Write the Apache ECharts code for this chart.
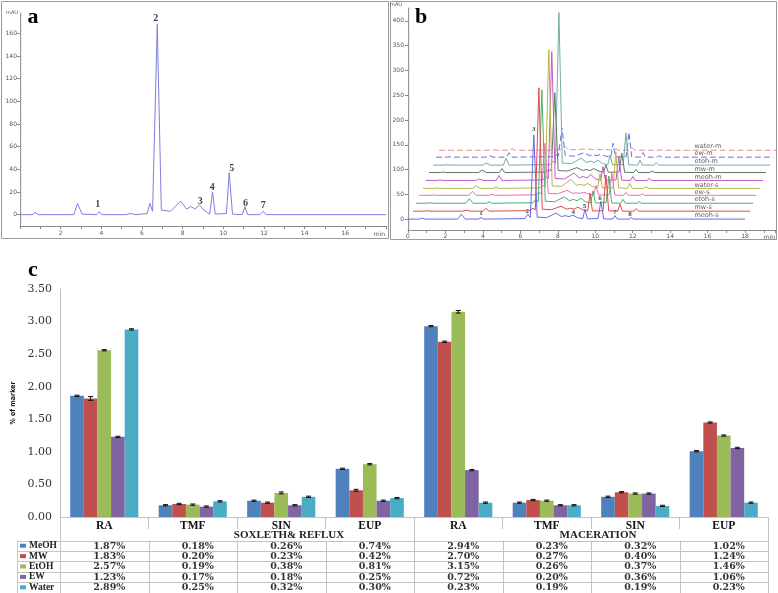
<!DOCTYPE html>
<html><head><meta charset="utf-8">
<script src="https://cdn.jsdelivr.net/npm/echarts@6/dist/echarts.min.js"></script>
<style>html,body{margin:0;padding:0;background:#fff}#c{width:778px;height:593px}</style>
</head><body><div id="c"></div>
<script>
// ---------- Panel a: chromatogram (time in min, signal in mAU) ----------
const aTime   = [0,0.6,0.74,0.9, 2.65,2.83,3.05, 3.78,3.9,4.02, 5.2,5.45,5.7, 6.25,6.39,6.52, 6.75,6.95,7.4, 7.9,8.2,8.4, 8.6,8.83,9.05, 9.33,9.47,9.6, 10.15,10.29,10.45, 10.93,11.06,11.2, 11.8,11.96,12.1, 18];
const aSignal = [0,0,2,0, 0,10,0.5, 0,2.6,0, 0,1,0, 1,10,3, 168,4,3, 12,5,7.3, 5,8.5,4, 0.5,20,0.5, 1,37,0.5, 0,7,0, 0,3,0, 0];
const aPeakNames = ['1','2','3','4','5','6','7'];
const aPeakTime  = [3.82,6.68,8.86,9.45,10.42,11.09,11.96];
const aPeakValue = [9,173,12,24,41,10,8];
const aXTickLabels = [2,4,6,8,10,12,14,16];
const aYTickLabels = [0,20,40,60,80,100,120,140,160];

// ---------- Panel b: overlaid chromatograms ----------
const bTime = [0,0.6,0.75,0.9, 2.65,2.85,3.05, 3.75,3.9,4.05, 6.25,6.4,6.53,6.72,6.9, 7.4,7.9,8.2,8.4,8.6,8.8,9.05, 9.33,9.45,9.58, 10.15,10.3,10.45, 10.93,11.05,11.18, 11.8,11.92,12.05, 18];
const bMeohS  = [0,0,2,0, 0,10,0, 0,3,0, 1,10,3,170,4, 3,12,5,7,5,8,3, 0.5,20,0.5, 1,36,0.5, 0,7,0, 0,3,0, 0];
const bMwS    = [0,0,1,0, 0,2,0, 0,6,0, 1,6,3,249,4, 3,10,4,6,4,8,3, 0.5,36,0.5, 1,73,0.5, 0,14,0, 0,5,0, 0];
const bEtohS  = [0,0,1,0, 0,9,0, 0,3,0, 1,8,3,229,4, 3,13,5,8,5,10,3, 0.5,25,0.5, 1,55,0.5, 0,8,0, 0,3,0, 0];
const bEwS    = [0,0,1,0, 0,8,0, 0,2,0, 1,6,3,105,4, 3,10,4,5,4,6,3, 0.5,20,0.5, 1,45,0.5, 0,6,0, 0,3,0, 0];
const bWaterS = [0,0,1,0, 0,5,0, 0,3,0, 1,6,3,280,5, 4,18,6,8,6,10,4, 1,30,1, 1,74,1, 0,10,0, 0,4,0, 0];
const bMeohM  = [0,0,1,0, 0,3,0, 0,10,0, 1,8,3,260,4, 3,15,5,8,5,12,3, 0.5,28,0.5, 1,48,0.5, 0,8,0, 0,4,0, 0];
const bMwM    = [0,0,1,0, 0,5,0, 0,8,0, 1,6,3,161,4, 3,10,4,6,4,8,3, 0.5,15,0.5, 1,39,0.5, 0,6,0, 0,3,0, 0];
const bEtohM  = [0,0,1,0, 0,4,0, 0,14,0, 1,8,3,308,4, 3,14,5,8,5,10,3, 0.5,20,0.5, 1,65,0.5, 0,10,0, 0,5,0, 0];
const bEwM    = [0,0,1,0, 0,3,0, 0,9,0, 1,5,2,59,3, 2,9,3,5,3,6,2, 0.5,28,0.5, 1,50,0.5, 0,9,0, 0,3,0, 0];
const bWaterM = [0,0,0,0, 0,1,0, 0,3,0, 0,2,1,8,1, 1,3,1,2,1,2,1, 0,3,0, 0,5,0, 0,2,0, 0,1,0, 0];
const bTraceNames = ['meoh-s','mw-s','etoh-s','ew-s','water-s','meoh-m','mw-m','etoh-m','ew-m','water-m'];
const bShiftTime  = [0,0.27,0.43,0.59,0.8,0.96,1.12,1.34,1.5,1.66];
const bShiftValue = [0,16,32,48,62,78,94,109,125,139];
const bPeakNames = ['1','2','3','4','5','6','7','8'];
const bPeakTime  = [3.9,6.37,6.72,8.83,9.42,10.26,11.05,11.86];
const bPeakValue = [12,16,182,13,26,42,14,10];
const bXTickLabels = [0,2,4,6,8,10,12,14,16,18];
const bYTickLabels = [0,50,100,150,200,250,300,350,400];

// ---------- Panel c: bar chart + table ----------
const markers = ['RA','TMF','SIN','EUP','RA','TMF','SIN','EUP'];
const methods = ['SOXLETH& REFLUX','MACERATION'];
const solvents = ['MeOH','MW','EtOH','EW','Water'];
const barMeOH  = [1.86,0.18,0.25,0.74, 2.93,0.22,0.31,1.01];
const barMW    = [1.82,0.20,0.22,0.41, 2.69,0.26,0.38,1.45];
const barEtOH  = [2.56,0.19,0.37,0.81, 3.15,0.25,0.36,1.25];
const barEW    = [1.23,0.16,0.18,0.25, 0.72,0.18,0.36,1.06];
const barWater = [2.88,0.24,0.31,0.29, 0.22,0.18,0.17,0.22];
const errMeOH  = [0.01,0.01,0.01,0.01, 0.01,0.01,0.01,0.01];
const errMW    = [0.03,0.01,0.01,0.015,0.01,0.01,0.01,0.01];
const errEtOH  = [0.01,0.01,0.015,0.01, 0.02,0.01,0.01,0.01];
const errEW    = [0.01,0.01,0.01,0.01, 0.01,0.01,0.01,0.01];
const errWater = [0.01,0.01,0.01,0.01, 0.01,0.01,0.01,0.01];
const tabMeOH  = ['1.87%','0.18%','0.26%','0.74%','2.94%','0.23%','0.32%','1.02%'];
const tabMW    = ['1.83%','0.20%','0.23%','0.42%','2.70%','0.27%','0.40%','1.24%'];
const tabEtOH  = ['2.57%','0.19%','0.38%','0.81%','3.15%','0.26%','0.37%','1.46%'];
const tabEW    = ['1.23%','0.17%','0.18%','0.25%','0.72%','0.20%','0.36%','1.06%'];
const tabWater = ['2.89%','0.25%','0.32%','0.30%','0.23%','0.19%','0.19%','0.23%'];
const cYTicks = [0,0.5,1,1.5,2,2.5,3,3.5];

// ---------- styles ----------
const barColors = ['#4F81BD','#C0504D','#9BBB59','#8064A2','#4BACC6'];
const traceColors = ['#6a6ae6','#e04a4a','#4caf6e','#ec6fb2','#b8b448','#c25ac8','#5e7a5e','#72ae9e','#6b6be4','#f08a8a'];
const traceDash = [null,null,null,null,null,null,null,null,[6,3],[6,3]];
const barVals = [barMeOH,barMW,barEtOH,barEW,barWater];
const errVals = [errMeOH,errMW,errEtOH,errEW,errWater];
const tabVals = [tabMeOH,tabMW,tabEtOH,tabEW,tabWater];
const bTraces = [bMeohS,bMwS,bEtohS,bEwS,bWaterS,bMeohM,bMwM,bEtohM,bEwM,bWaterM];

const chart = echarts.init(document.getElementById('c'), null, {renderer:'canvas'});
const tiny = {fontSize:6, color:'#555', fontFamily:'DejaVu Sans'};
const serif = 'Liberation Serif';
const numSerif = 'DejaVu Serif';

// layout for panel c
const cLeft = 60, cWidth = 708, cTop = 289, cHeight = 228;
const gapRatio = 0.23;

const series = [];
// panel a
series.push({type:'line', xAxisIndex:0, yAxisIndex:0, data:aTime.map((t,i)=>[t,aSignal[i]]),
  symbol:'none', lineStyle:{color:'#7f7fe0', width:1}, silent:true, z:3});
series.push({type:'scatter', xAxisIndex:0, yAxisIndex:0, symbolSize:0, silent:true,
  data:aPeakTime.map((t,i)=>({value:[t,aPeakValue[i]], name:aPeakNames[i]})),
  label:{show:true, position:'inside', formatter:p=>p.name, fontFamily:serif, fontWeight:'bold', fontSize:10, color:'#111'}});
// panel b (back to front)
for (let i = bTraces.length-1; i >= 0; i--) {
  series.push({type:'line', xAxisIndex:1, yAxisIndex:2,
    data:bTime.map((t,k)=>[t+bShiftTime[i], bShiftValue[i]+bTraces[i][k]]),
    symbol:'none', silent:true, z:3,
    lineStyle:{color:traceColors[i], width:1, type: traceDash[i] || 'solid'}});
}
series.push({type:'scatter', xAxisIndex:1, yAxisIndex:2, symbolSize:0, silent:true,
  data:bTraceNames.map((n,i)=>({value:[15.3, bShiftValue[i]+7], name:n})),
  label:{show:true, position:'inside', align:'left', formatter:p=>p.name, fontSize:6.5, fontFamily:'DejaVu Sans', color:'#333'}});
series.push({type:'scatter', xAxisIndex:1, yAxisIndex:2, symbolSize:0, silent:true,
  data:bPeakTime.map((t,i)=>({value:[t,bPeakValue[i]], name:bPeakNames[i]})),
  label:{show:true, position:'inside', formatter:p=>p.name, fontFamily:serif, fontWeight:'bold', fontSize:7, color:'#111'}});
// panel c bars
solvents.forEach((s,si)=>{
  series.push({type:'bar', name:s, xAxisIndex:2, yAxisIndex:4, data:barVals[si],
    barGap:'0%', barCategoryGap:(gapRatio*100)+'%', silent:true,
    itemStyle:{color:barColors[si]}});
});
solvents.forEach((s,si)=>{
  series.push({type:'custom', xAxisIndex:2, yAxisIndex:4, z:5, silent:true,
    data:barVals[si].map((v,i)=>[i,v,errVals[si][i]]),
    renderItem:(params, api)=>{
      const i = api.value(0), v = api.value(1), e = api.value(2);
      const c = api.coord([i, v]);
      const band = api.size([1,0])[0];
      const bw = band*(1-gapRatio)/5;
      const x = c[0] - 2.5*bw + (si+0.5)*bw;
      const top = api.coord([i, v+e])[1], bot = api.coord([i, v-e])[1];
      const hw = 2.5, st = {stroke:'#111', lineWidth:1};
      return {type:'group', children:[
        {type:'line', shape:{x1:x,y1:top,x2:x,y2:bot}, style:st},
        {type:'line', shape:{x1:x-hw,y1:top,x2:x+hw,y2:top}, style:st},
        {type:'line', shape:{x1:x-hw,y1:bot,x2:x+hw,y2:bot}, style:st}]};
    }});
});

// table graphics
const graphics = [];
const lineCol = '#c4c4c4';
const colW = cWidth/markers.length;
const tabTop = 540.5, rowH = 10.4, tabLeft = 17, cBottom = cTop + cHeight;
const hl = (x1,y1,x2,y2)=>({type:'line', shape:{x1,y1,x2,y2}, style:{stroke:lineCol, lineWidth:1}, silent:true});
for (let r = 0; r <= solvents.length; r++) {
  const y = Math.round(tabTop + r*rowH) + 0.5;
  graphics.push(hl(tabLeft, y, cLeft+cWidth, y));
}
const tabBottom = Math.round(tabTop + solvents.length*rowH) + 0.5;
graphics.push(hl(tabLeft+0.5, tabTop, tabLeft+0.5, tabBottom));
for (let j = 0; j <= markers.length; j++) {
  const x = Math.round(cLeft + j*colW) + 0.5;
  if (j === 0 || j === markers.length || j === markers.length/2) graphics.push(hl(x, cBottom, x, tabBottom));
  else graphics.push(hl(x, tabTop, x, tabBottom));
}
solvents.forEach((s,r)=>{
  const yc = tabTop + (r+0.5)*rowH;
  graphics.push({type:'rect', shape:{x:20, y:yc-2, width:6, height:4}, style:{fill:barColors[r]}, silent:true});
  graphics.push({type:'text', x:29, y:yc, silent:true, style:{text:s, fontFamily:serif, fontWeight:'bold', fontSize:9.5, fill:'#222', verticalAlign:'middle', align:'left'}});
  tabVals[r].forEach((txt,j)=>{
    graphics.push({type:'text', x:cLeft+(j+0.5)*colW+5, y:yc+0.5, silent:true,
      style:{text:txt, fontFamily:numSerif, fontWeight:'bold', fontSize:9.5, fill:'#333', align:'center', verticalAlign:'middle'}});
  });
});
graphics.push({type:'text', x:289, y:535.5, silent:true, style:{text:methods[0], fontFamily:serif, fontWeight:'bold', fontSize:11, fill:'#222', align:'center', verticalAlign:'middle'}});
graphics.push({type:'text', x:598, y:535.5, silent:true, style:{text:methods[1], fontFamily:serif, fontWeight:'bold', fontSize:11, fill:'#222', align:'center', verticalAlign:'middle'}});
// panel frames and labels
graphics.push({type:'rect', shape:{x:1.5, y:1.5, width:387, height:237}, style:{fill:null, stroke:'#9a9a9a', lineWidth:1}, silent:true, z:-1});
graphics.push({type:'rect', shape:{x:390.5, y:1.5, width:386, height:238}, style:{fill:null, stroke:'#9a9a9a', lineWidth:1}, silent:true, z:-1});
graphics.push({type:'text', x:33, y:17, silent:true, style:{text:'a', fontFamily:serif, fontWeight:'bold', fontSize:22, fill:'#000', align:'center', verticalAlign:'middle'}});
graphics.push({type:'text', x:421, y:17, silent:true, style:{text:'b', fontFamily:serif, fontWeight:'bold', fontSize:22, fill:'#000', align:'center', verticalAlign:'middle'}});
graphics.push({type:'text', x:33, y:270, silent:true, style:{text:'c', fontFamily:serif, fontWeight:'bold', fontSize:22, fill:'#000', align:'center', verticalAlign:'middle'}});
graphics.push({type:'text', x:12, y:13, silent:true, style:{text:'mAU', fontSize:5, fill:'#555', fontFamily:'DejaVu Sans', align:'center', verticalAlign:'middle'}});
graphics.push({type:'text', x:396, y:5, silent:true, style:{text:'mAU', fontSize:5, fill:'#555', fontFamily:'DejaVu Sans', align:'center', verticalAlign:'middle'}});

const axLine = {show:true, onZero:false, lineStyle:{color:'#8a8a8a', width:1}};
const option = {
  animation:false,
  backgroundColor:'#fff',
  grid:[
    {left:20, top:13, width:366, height:213},
    {left:408, top:8, width:367, height:222},
    {left:cLeft, top:cTop, width:cWidth, height:cHeight}
  ],
  xAxis:[
    {type:'value', gridIndex:0, min:0, max:18, interval:1, axisLine:axLine,
      axisTick:{length:3, lineStyle:{color:'#888'}}, splitLine:{show:false},
      axisLabel:{...tiny, margin:4, showMinLabel:true, showMaxLabel:true, formatter:v=>aXTickLabels.includes(v)?String(v):''},
      name:'min', nameLocation:'end', nameGap:-1, nameTextStyle:{...tiny, align:'right', verticalAlign:'top', padding:[5,0,0,0]}},
    {type:'value', gridIndex:1, min:0, max:19.6, interval:1, axisLine:axLine,
      axisTick:{length:3, lineStyle:{color:'#888'}}, splitLine:{show:false},
      axisLabel:{...tiny, margin:3, formatter:v=>bXTickLabels.includes(v)?String(v):''},
      name:'min', nameLocation:'end', nameGap:0, nameTextStyle:{...tiny, align:'right', verticalAlign:'top', padding:[4,0,0,0]}},
    {type:'category', gridIndex:2, data:markers,
      axisLine:{show:true, lineStyle:{color:lineCol}},
      axisTick:{show:true, length:12, lineStyle:{color:lineCol}},
      axisLabel:{interval:0, margin:3, fontFamily:serif, fontWeight:'bold', fontSize:11.5, color:'#111'}}
  ],
  yAxis:[
    {type:'value', gridIndex:0, min:-10, max:178, axisLine:axLine, splitLine:{show:false},
      axisTick:{show:true, length:3, customValues:aYTickLabels, lineStyle:{color:'#888'}},
      axisLabel:{...tiny, margin:3, customValues:aYTickLabels}},
    {type:'value', gridIndex:0, min:-10, max:178, interval:2, axisLine:{show:false}, splitLine:{show:false},
      axisTick:{show:true, length:1.5, lineStyle:{color:'#aaa'}}, axisLabel:{show:false}},
    {type:'value', gridIndex:1, min:-22, max:426, axisLine:axLine, splitLine:{show:false},
      axisTick:{show:true, length:3, customValues:bYTickLabels, lineStyle:{color:'#888'}},
      axisLabel:{...tiny, margin:4, customValues:bYTickLabels}},
    {type:'value', gridIndex:1, min:-22, max:426, interval:5, axisLine:{show:false}, splitLine:{show:false},
      axisTick:{show:true, length:1.5, lineStyle:{color:'#aaa'}}, axisLabel:{show:false}},
    {type:'value', gridIndex:2, min:cYTicks[0], max:cYTicks[cYTicks.length-1], interval:0.5,
      axisLine:{show:true, lineStyle:{color:'#bdbdbd'}}, axisTick:{show:false}, splitLine:{show:false},
      axisLabel:{margin:8, fontFamily:numSerif, fontSize:11, color:'#333', formatter:v=>v.toFixed(2)},
      name:'% of marker', nameLocation:'middle', nameGap:37,
      nameTextStyle:{fontFamily:'DejaVu Sans Condensed', fontWeight:'bold', fontSize:7, color:'#111'}}
  ],
  graphic:graphics,
  series:series
};
chart.setOption(option);
</script></body></html>
